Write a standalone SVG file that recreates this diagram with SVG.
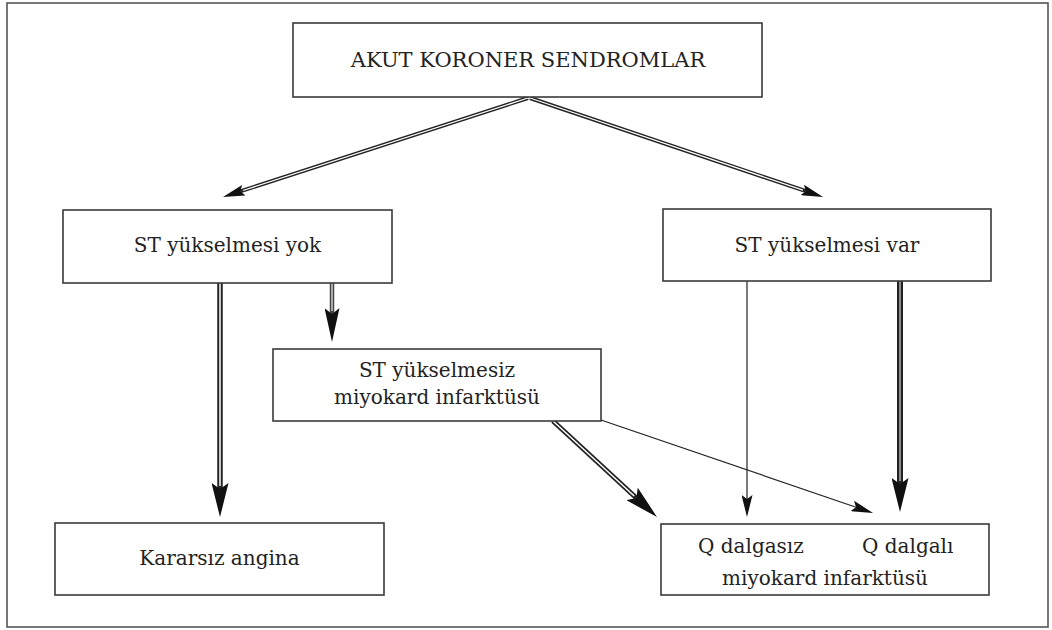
<svg xmlns="http://www.w3.org/2000/svg" width="1052" height="630" viewBox="0 0 1052 630">
<style>
.box{fill:#fff;stroke:#3a3a3a;stroke-width:1.6}
.frame{fill:#fff;stroke:#555;stroke-width:1.6}
text{font-family:"DejaVu Serif","Liberation Serif",serif;font-size:20px;fill:#222}
.c{text-anchor:middle}
.o{fill:none;stroke:#222;stroke-linecap:butt}
.i{fill:none;stroke:#fff;stroke-linecap:butt}
.thin{fill:none;stroke:#222;stroke-width:1.2}
</style>
<defs>
<marker id="mBig" markerUnits="userSpaceOnUse" viewBox="0 0 34 17" markerWidth="34" markerHeight="17" refX="6" refY="8.5" orient="auto"><path d="M0,0 L34,8.5 L0,17 L6,8.5 z" fill="#111"/></marker>
<marker id="mMed" markerUnits="userSpaceOnUse" viewBox="0 0 34 15" markerWidth="34" markerHeight="15" refX="6" refY="7.5" orient="auto"><path d="M0,0 L34,7.5 L0,15 L6,7.5 z" fill="#111"/></marker>
<marker id="mSmall" markerUnits="userSpaceOnUse" viewBox="0 0 22 11" markerWidth="22" markerHeight="11" refX="4" refY="5.5" orient="auto"><path d="M0,0 L22,5.5 L0,11 L4,5.5 z" fill="#111"/></marker>
</defs>
<rect class="frame" x="7" y="3" width="1041" height="624"/>
<g id="connectors">
<path class="o" d="M528,98 L240.1,191.4" stroke-width="4" marker-end="url(#mSmall)"/>
<path class="i" d="M528,98 L243,190.5" stroke-width="1.3"/>
<path class="o" d="M530,98 L806,191.2" stroke-width="4" marker-end="url(#mSmall)"/>
<path class="i" d="M530,98 L803,190.2" stroke-width="1.3"/>
<path class="o" d="M220,283 L220,489" stroke-width="5.5" marker-end="url(#mBig)"/>
<path class="i" d="M220,283 L220,486" stroke-width="1.5"/>
<path class="o" d="M332,283 L332,314" stroke-width="4.5" style="stroke:#444" marker-end="url(#mMed)"/>
<path class="i" d="M332,283 L332,311" stroke-width="1.5" style="stroke:#ccc"/>
<path class="thin" d="M747,281 L747,499" marker-end="url(#mSmall)"/>
<path class="o" d="M900,281 L900,484" stroke-width="6" marker-end="url(#mBig)"/>
<path class="i" d="M900,281 L900,481" stroke-width="1.8" style="stroke:#999"/>
<path class="o" d="M553,421 L636.4,498" stroke-width="5" marker-end="url(#mBig)"/>
<path class="i" d="M553,421 L634.2,496" stroke-width="1.5"/>
<path class="thin" d="M601,420 L856,507.2" marker-end="url(#mSmall)"/>
</g>
<g id="node-acs">
<rect class="box" x="293" y="23" width="469" height="74"/>
<text class="c" x="528" y="67" style="font-size:21px">AKUT KORONER SENDROMLAR</text>
</g>
<g id="node-st-yok">
<rect class="box" x="63" y="210" width="329" height="73"/>
<text class="c" x="227.5" y="252">ST yükselmesi yok</text>
</g>
<g id="node-st-var">
<rect class="box" x="663" y="209" width="328" height="72"/>
<text class="c" x="827" y="252">ST yükselmesi var</text>
</g>
<g id="node-nstemi">
<rect class="box" x="273" y="349" width="328" height="72"/>
<text class="c" x="437" y="377">ST yükselmesiz</text>
<text class="c" x="437" y="404">miyokard infarktüsü</text>
</g>
<g id="node-ua">
<rect class="box" x="55" y="523" width="329" height="72"/>
<text class="c" x="219.5" y="565">Kararsız angina</text>
</g>
<g id="node-q">
<rect class="box" x="661" y="524" width="328" height="71"/>
<text x="698" y="553">Q dalgasız</text>
<text x="862" y="553">Q dalgalı</text>
<text class="c" x="825" y="585">miyokard infarktüsü</text>
</g>
</svg>
